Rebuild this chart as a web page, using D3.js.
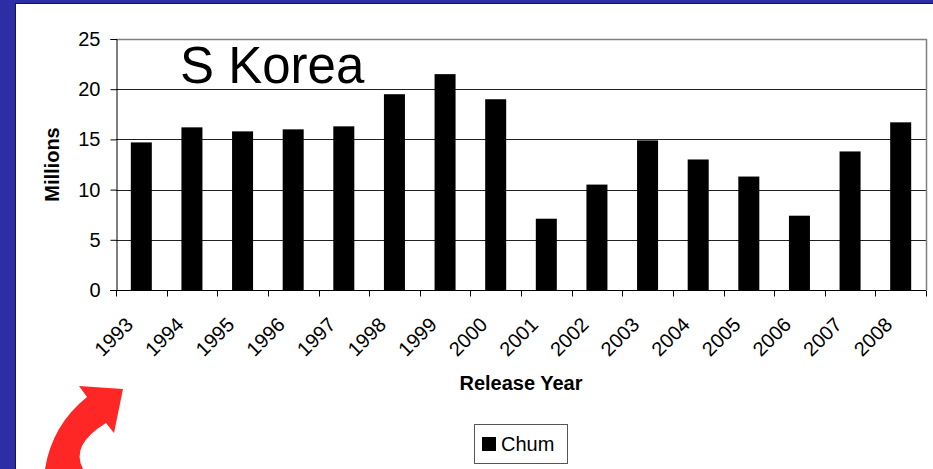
<!DOCTYPE html>
<html>
<head>
<meta charset="utf-8">
<script src="https://cdn.jsdelivr.net/npm/d3@7"></script>
<style>
  html, body { margin: 0; padding: 0; background: #2d2da6; }
  svg { display: block; }
  text { font-family: "Liberation Sans", Arial, sans-serif; fill: #000; }
</style>
</head>
<body>
<script>
// Chum salmon releases, South Korea, by release year (millions of fish)
const years = ["1993", "1994", "1995", "1996", "1997", "1998", "1999", "2000",
               "2001", "2002", "2003", "2004", "2005", "2006", "2007", "2008"];
const chum = [14.7, 16.2, 15.8, 16.0, 16.3, 19.5, 21.5, 19.0,
              7.1, 10.5, 14.9, 13.0, 11.3, 7.4, 13.8, 16.7];
const yTicks = [0, 5, 10, 15, 20, 25];
const seriesName = "Chum";
const chartTitle = "S Korea";
const xTitle = "Release Year";
const yTitle = "Millions";

const W = 933, H = 469;
const plot = { left: 116, right: 926, top: 39, bottom: 290 };

const svg = d3.select("body").append("svg")
  .attr("width", W).attr("height", H);

// slide background and white chart panel
svg.append("rect").attr("width", W).attr("height", H).attr("fill", "#2d2da6");
svg.append("rect")
  .attr("x", 15.5).attr("y", 3.5).attr("width", W - 15).attr("height", H - 3)
  .attr("fill", "#fff").attr("stroke", "#15154a").attr("stroke-width", 1);

const x = d3.scaleBand()
  .domain(years)
  .range([plot.left, plot.right])
  .paddingInner(0.585)
  .paddingOuter(0.2925);

const y = d3.scaleLinear()
  .domain([0, 25])
  .range([plot.bottom, plot.top]);

// horizontal gridlines
svg.append("g")
  .selectAll("line")
  .data(yTicks.filter(d => d > 0 && d < 25))
  .join("line")
  .attr("x1", plot.left).attr("x2", plot.right)
  .attr("y1", d => Math.round(y(d)) + 0.5).attr("y2", d => Math.round(y(d)) + 0.5)
  .attr("stroke", "#222").attr("stroke-width", 1);

// plot-area border (top and right)
svg.append("path")
  .attr("d", `M${plot.left},${Math.round(y(25)) + 0.5}H${plot.right + 0.5}V${plot.bottom}`)
  .attr("fill", "none").attr("stroke", "#808080").attr("stroke-width", 1.5);

// bars
svg.append("g")
  .selectAll("rect")
  .data(years.map((yr, i) => ({ yr, v: chum[i] })))
  .join("rect")
  .attr("x", d => x(d.yr))
  .attr("width", x.bandwidth())
  .attr("y", d => y(d.v))
  .attr("height", d => y(0) - y(d.v))
  .attr("fill", "#000");

// y axis
const yAxis = svg.append("g")
  .attr("transform", `translate(${plot.left + 0.5},0)`)
  .call(d3.axisLeft(y).tickValues(yTicks).tickSize(6).tickPadding(10));
yAxis.select(".domain").attr("stroke", "#000");
yAxis.selectAll(".tick line").attr("stroke", "#000");
yAxis.selectAll(".tick text")
  .attr("font-family", "Liberation Sans, Arial, sans-serif")
  .attr("font-size", 20).attr("fill", "#000");

// x axis: ticks sit on category boundaries
const xAxisG = svg.append("g")
  .attr("transform", `translate(0,${plot.bottom + 0.5})`);
xAxisG.append("line")
  .attr("x1", plot.left - 6).attr("x2", plot.right)
  .attr("stroke", "#000");
const boundaries = years.map(yr => x(yr) - x.step() * x.paddingInner() / 2)
  .concat([plot.right]);
xAxisG.selectAll("line.tk")
  .data(boundaries)
  .join("line").attr("class", "tk")
  .attr("x1", d => Math.round(d) + 0.5).attr("x2", d => Math.round(d) + 0.5)
  .attr("y1", 0).attr("y2", 6)
  .attr("stroke", "#000");

// rotated year labels
svg.append("g")
  .selectAll("text")
  .data(years)
  .join("text")
  .attr("text-anchor", "end")
  .attr("font-size", 20)
  .attr("transform", d => `translate(${x(d) + x.bandwidth() / 2 - 7},${plot.bottom + 36}) rotate(-45)`)
  .text(d => d);

// axis titles
svg.append("text")
  .attr("x", (plot.left + plot.right) / 2).attr("y", 390)
  .attr("text-anchor", "middle")
  .attr("font-size", 20).attr("font-weight", "bold")
  .text(xTitle);

svg.append("text")
  .attr("transform", `translate(59,${(plot.top + plot.bottom) / 2}) rotate(-90)`)
  .attr("text-anchor", "middle")
  .attr("font-size", 20).attr("font-weight", "bold")
  .text(yTitle);

// chart title inside the plot
svg.append("text")
  .attr("x", 180).attr("y", 83)
  .attr("font-size", 51)
  .text(chartTitle);

// legend
const lg = svg.append("g");
lg.append("rect")
  .attr("x", 474.5).attr("y", 424.5).attr("width", 93).attr("height", 39)
  .attr("fill", "#fff").attr("stroke", "#555").attr("stroke-width", 1);
lg.append("rect")
  .attr("x", 482).attr("y", 437).attr("width", 14).attr("height", 14)
  .attr("fill", "#000");
lg.append("text")
  .attr("x", 501).attr("y", 451)
  .attr("font-size", 20)
  .text(seriesName);

// red curved arrow pointing up to the axis corner
svg.append("path")
  .attr("d", "M123,389 L79,386 L87,397 Q52,425 45,469 L83,469 Q70,445 106,423 L114,433 Z")
  .attr("fill", "#ff2626");
</script>
</body>
</html>
